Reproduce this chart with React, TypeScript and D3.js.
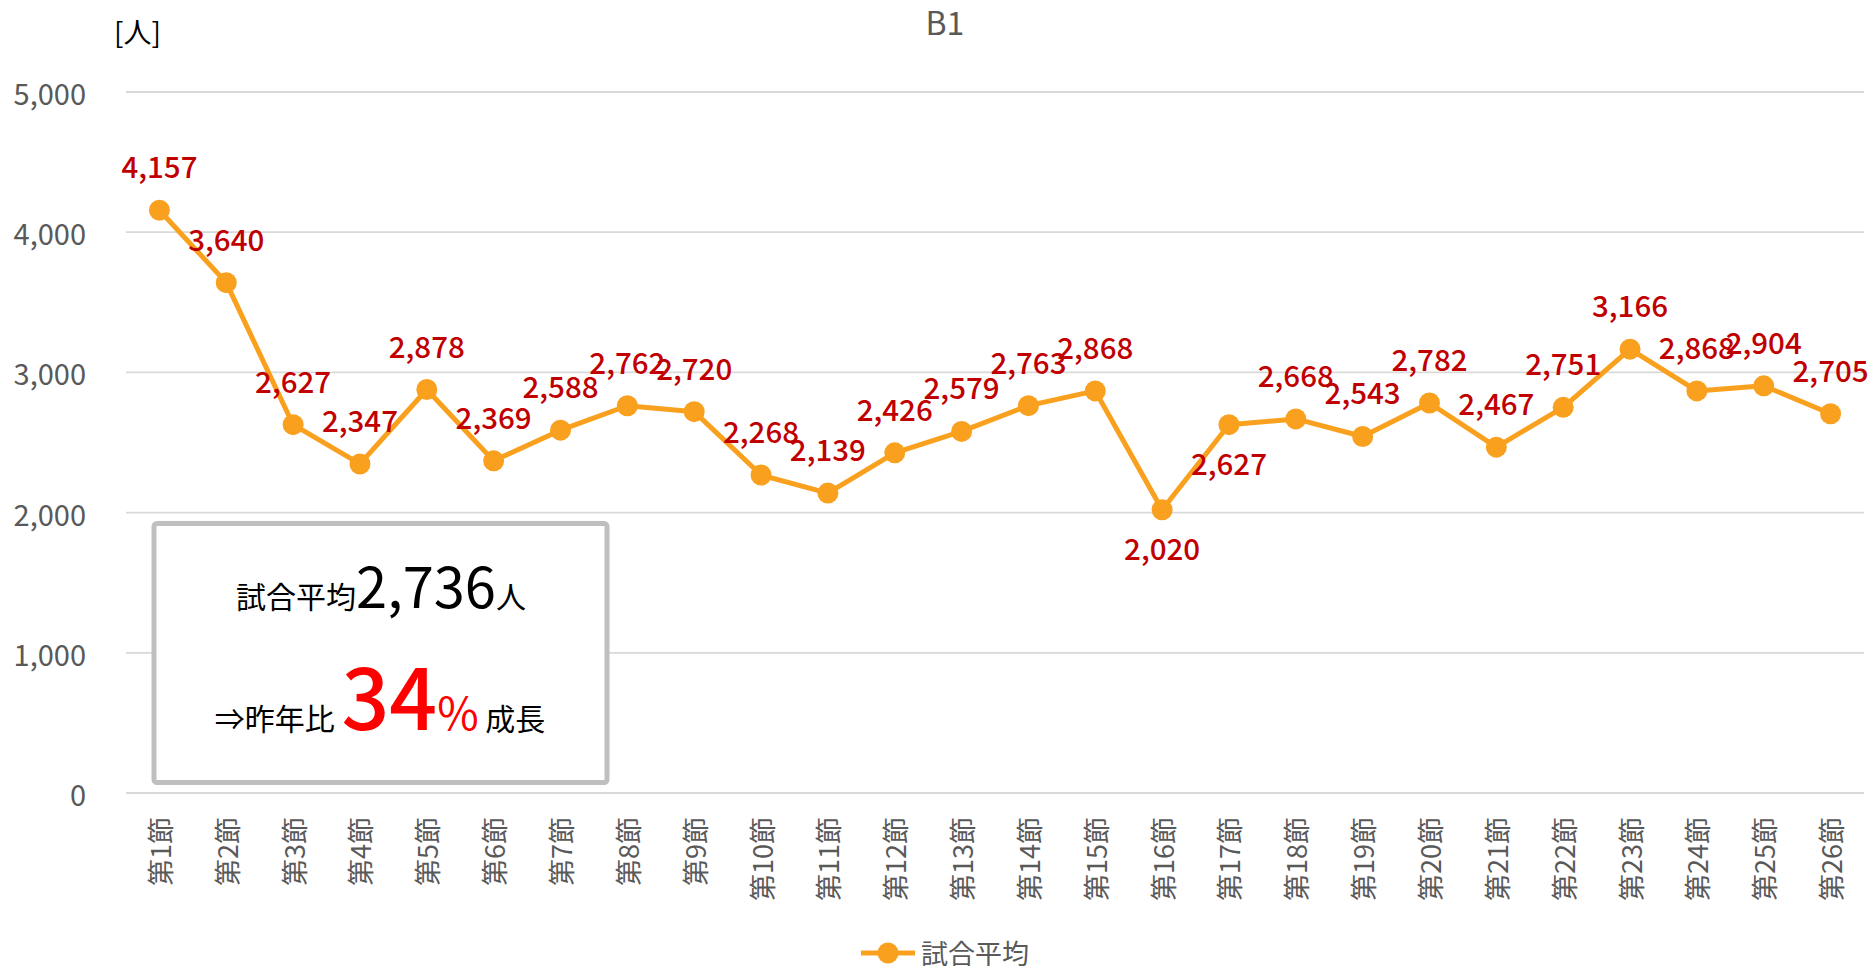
import React from "react";
import * as d3 from "d3";

const categories = Array.from({ length: 26 }, (_, i) => `第${i + 1}節`);
const attendance = [
  4157, 3640, 2627, 2347, 2878, 2369, 2588, 2762, 2720, 2268, 2139, 2426, 2579,
  2763, 2868, 2020, 2627, 2668, 2543, 2782, 2467, 2751, 3166, 2868, 2904, 2705,
];
const yTicks = [0, 1000, 2000, 3000, 4000, 5000];
const seriesName = "試合平均";
const title = "B1";
const unitLabel = "[人]";
const averageValue = 2736;
const growthPct = 34;

const FONT = "'Noto Sans CJK JP', 'Noto Sans', sans-serif";

export default function App() {
  const W = 1875;
  const H = 966;
  const left = 126;
  const right = 1864;
  const top = 92;
  const bottom = 793;

  const x = d3.scalePoint<string>().domain(categories).range([left, right]).padding(0.5);
  const y = d3.scaleLinear().domain([0, 5000]).range([bottom, top]);
  const line = d3
    .line<number>()
    .x((_, i) => x(categories[i]) as number)
    .y((d) => y(d));
  const fmt = d3.format(",");
  const below = new Set([15, 16]);
  const orange = "#F9A11E";

  return (
    <svg
      width={W}
      height={H}
      style={{ position: "absolute", left: 0, top: 0, background: "#fff" }}
      fontFamily={FONT}
    >
      <rect x={0} y={0} width={W} height={H} fill="#fff" />
      <text x={945} y={35} textAnchor="middle" fontSize={32} fill="#595959">
        {title}
      </text>
      <text x={114} y={43} fontSize={28} fill="#000">
        {unitLabel}
      </text>

      {yTicks.map((t) => (
        <g key={t}>
          <line x1={left} x2={right} y1={y(t)} y2={y(t)} stroke="#D9D9D9" strokeWidth={1.8} />
          <text
            x={86}
            y={y(t)}
            textAnchor="end"
            dominantBaseline="central"
            fontSize={29}
            fill="#595959"
          >
            {fmt(t)}
          </text>
        </g>
      ))}

      {categories.map((c) => (
        <text
          key={c}
          transform={`translate(${x(c)},${817}) rotate(-90)`}
          textAnchor="end"
          dominantBaseline="central"
          fontSize={27}
          fill="#595959"
        >
          {c}
        </text>
      ))}

      {/* summary box */}
      <rect
        x={154}
        y={523.5}
        width={453}
        height={259}
        rx={3}
        fill="#fff"
        stroke="#BFBFBF"
        strokeWidth={5}
      />
      <text x={381} y={608} textAnchor="middle" fill="#000">
        <tspan fontSize={30}>試合平均</tspan>
        <tspan fontSize={56}>{fmt(averageValue)}</tspan>
        <tspan fontSize={30}>人</tspan>
      </text>
      <text x={380} y={730} textAnchor="middle" fill="#000">
        <tspan fontSize={30}>⇒昨年比 </tspan>
        <tspan fontSize={84} fill="#FF0000" fontWeight={500}>
          {growthPct}
        </tspan>
        <tspan fontSize={45} fill="#FF0000">%</tspan>
        <tspan fontSize={30}> 成長</tspan>
      </text>

      <path d={line(attendance) || ""} fill="none" stroke={orange} strokeWidth={5} strokeLinejoin="round" />
      {attendance.map((v, i) => (
        <circle key={i} cx={x(categories[i])} cy={y(v)} r={10.5} fill={orange} />
      ))}
      {attendance.map((v, i) => (
        <text
          key={"l" + i}
          x={x(categories[i])}
          y={y(v) + (below.has(i) ? 37 : -45)}
          textAnchor="middle"
          dominantBaseline="central"
          fontSize={29.5}
          fontWeight={500}
          fill="#C00000"
        >
          {fmt(v)}
        </text>
      ))}

      {/* legend */}
      <line x1={861} x2={915} y1={953} y2={953} stroke={orange} strokeWidth={5} />
      <circle cx={888} cy={953} r={10.5} fill={orange} />
      <text x={921} y={952} dominantBaseline="central" fontSize={27} fill="#595959">
        {seriesName}
      </text>
    </svg>
  );
}
